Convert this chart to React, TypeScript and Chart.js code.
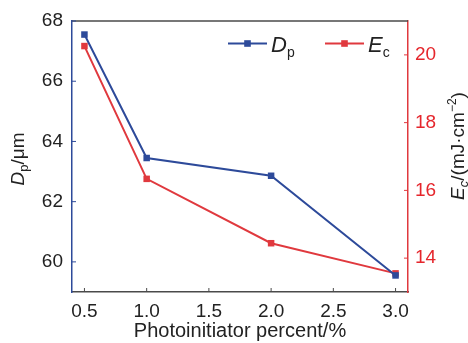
import React, { useEffect, useRef } from "react";
import { Chart, registerables } from "chart.js";

Chart.register(...registerables);

const percents = [0.5, 1.0, 2.0, 3.0];
const dpValues = [67.55, 63.45, 62.86, 59.55];
const ecValues = [20.26, 16.34, 14.44, 13.55];
const xTicks = [0.5, 1.0, 1.5, 2.0, 2.5, 3.0];
const leftTicks = [60, 62, 64, 66, 68];
const rightTicks = [14, 16, 18, 20];

const BLUE = "#2d4a9a";
const RED = "#e0393e";
const RED_TEXT = "#e5262c";
const DARK = "#4a4a4a";
const TEXT = "#222222";
const FONT = "'Liberation Sans', Arial, Helvetica, sans-serif";

type Seg = { t: string; italic?: boolean; size: number; dy?: number; color?: string };

function segWidth(ctx: CanvasRenderingContext2D, segs: Seg[]) {
  let w = 0;
  for (const s of segs) {
    ctx.font = `${s.italic ? "italic " : ""}${s.size}px ${FONT}`;
    w += ctx.measureText(s.t).width;
  }
  return w;
}

function drawSegs(ctx: CanvasRenderingContext2D, segs: Seg[], x: number, y: number, color: string) {
  let cx = x;
  ctx.textAlign = "left";
  ctx.textBaseline = "alphabetic";
  for (const s of segs) {
    ctx.font = `${s.italic ? "italic " : ""}${s.size}px ${FONT}`;
    ctx.fillStyle = s.color || color;
    ctx.fillText(s.t, cx, y + (s.dy || 0));
    cx += ctx.measureText(s.t).width;
  }
}

const decorPlugin = {
  id: "decor",
  afterDraw(chart: any) {
    const ctx: CanvasRenderingContext2D = chart.ctx;
    const { left, right, top, bottom } = chart.chartArea;
    const xs = chart.scales.x;
    const yl = chart.scales.y;
    const yr = chart.scales.y1;
    ctx.save();
    // top border
    ctx.strokeStyle = DARK;
    ctx.lineWidth = 1.5;
    ctx.beginPath();
    ctx.moveTo(left, top);
    ctx.lineTo(right, top);
    ctx.stroke();
    // inward ticks
    const tl = 4;
    ctx.lineWidth = 1;
    ctx.strokeStyle = DARK;
    ctx.beginPath();
    for (const v of xTicks) {
      const px = xs.getPixelForValue(v);
      ctx.moveTo(px, bottom);
      ctx.lineTo(px, bottom - tl);
    }
    ctx.stroke();
    ctx.strokeStyle = BLUE;
    ctx.beginPath();
    for (const v of leftTicks) {
      const py = yl.getPixelForValue(v);
      ctx.moveTo(left, py);
      ctx.lineTo(left + tl, py);
    }
    ctx.stroke();
    ctx.strokeStyle = RED;
    ctx.beginPath();
    for (const v of rightTicks) {
      const py = yr.getPixelForValue(v);
      ctx.moveTo(right, py);
      ctx.lineTo(right - tl, py);
    }
    ctx.stroke();

    // legend
    const legendItems = [
      { color: BLUE, x: 228, segs: [{ t: "D", italic: true, size: 22 }, { t: "p", size: 14, dy: 5 }] as Seg[] },
      { color: RED, x: 325, segs: [{ t: "E", italic: true, size: 22 }, { t: "c", size: 14, dy: 5 }] as Seg[] },
    ];
    const ly = 43.5;
    for (const it of legendItems) {
      ctx.strokeStyle = it.color;
      ctx.lineWidth = 2;
      ctx.beginPath();
      ctx.moveTo(it.x, ly);
      ctx.lineTo(it.x + 39, ly);
      ctx.stroke();
      ctx.fillStyle = it.color;
      ctx.fillRect(it.x + 19.5 - 3.3, ly - 3.3, 6.6, 6.6);
      drawSegs(ctx, it.segs, it.x + 43, ly + 8, TEXT);
    }

    // x title
    const xt: Seg[] = [{ t: "Photoinitiator percent/%", size: 20 }];
    const xw = segWidth(ctx, xt);
    drawSegs(ctx, xt, 240 - xw / 2, 337, TEXT);

    // left title
    const lt: Seg[] = [
      { t: "D", italic: true, size: 19 },
      { t: "p", size: 13, dy: 4 },
      { t: "/\u03bcm", size: 19 },
    ];
    ctx.save();
    ctx.translate(24, 159);
    ctx.rotate(-Math.PI / 2);
    const lw = segWidth(ctx, lt);
    drawSegs(ctx, lt, -lw / 2, 0, TEXT);
    ctx.restore();

    // right title
    const rt: Seg[] = [
      { t: "E", italic: true, size: 19 },
      { t: "c", italic: true, size: 13, dy: 4 },
      { t: "/(mJ\u00b7cm", size: 19 },
      { t: "\u22122", size: 12, dy: -8 },
      { t: ")", size: 19 },
    ];
    ctx.save();
    ctx.translate(464, 146);
    ctx.rotate(-Math.PI / 2);
    const rw = segWidth(ctx, rt);
    drawSegs(ctx, rt, -rw / 2, 0, TEXT);
    ctx.restore();

    ctx.restore();
  },
};

export default function App() {
  const ref = useRef<HTMLCanvasElement | null>(null);
  useEffect(() => {
    if (!ref.current) return;
    const chart = new Chart(ref.current, {
      type: "line",
      data: {
        datasets: [
          {
            label: "Dp",
            data: percents.map((x, i) => ({ x, y: dpValues[i] })),
            borderColor: BLUE,
            backgroundColor: BLUE,
            borderWidth: 2,
            pointStyle: "rect",
            pointRadius: 4.6,
            pointBorderWidth: 0,
            yAxisID: "y",
          },
          {
            label: "Ec",
            data: percents.map((x, i) => ({ x, y: ecValues[i] })),
            borderColor: RED,
            backgroundColor: RED,
            borderWidth: 2,
            pointStyle: "rect",
            pointRadius: 4.6,
            pointBorderWidth: 0,
            yAxisID: "y1",
          },
        ],
      },
      options: {
        responsive: false,
        animation: false,
        layout: { padding: { top: 21, left: 0, right: 0, bottom: 0 } },
        plugins: { legend: { display: false }, tooltip: { enabled: false } },
        scales: {
          x: {
            type: "linear",
            min: 0.4,
            max: 3.1,
            afterBuildTicks: (s: any) => {
              s.ticks = xTicks.map((v) => ({ value: v }));
            },
            afterFit: (s: any) => {
              s.height = 51;
            },
            ticks: {
              callback: (v: any) => Number(v).toFixed(1),
              font: { family: FONT, size: 19 },
              color: TEXT,
              padding: 8,
              maxRotation: 0,
            },
            grid: { drawOnChartArea: false, drawTicks: false },
            border: { color: DARK, width: 1.5 },
          },
          y: {
            type: "linear",
            position: "left",
            min: 59,
            max: 68,
            afterBuildTicks: (s: any) => {
              s.ticks = leftTicks.map((v) => ({ value: v }));
            },
            afterFit: (s: any) => {
              s.width = 72;
            },
            ticks: { font: { family: FONT, size: 19 }, color: TEXT, padding: 9 },
            grid: { drawOnChartArea: false, drawTicks: false },
            border: { color: BLUE, width: 1.5 },
          },
          y1: {
            type: "linear",
            position: "right",
            min: 13,
            max: 21,
            afterBuildTicks: (s: any) => {
              s.ticks = rightTicks.map((v) => ({ value: v }));
            },
            afterFit: (s: any) => {
              s.width = 60;
            },
            ticks: { font: { family: FONT, size: 19 }, color: RED_TEXT, padding: 7 },
            grid: { drawOnChartArea: false, drawTicks: false },
            border: { color: RED, width: 1.5 },
          },
        },
      } as any,
      plugins: [decorPlugin],
    });
    return () => chart.destroy();
  }, []);
  return (
    <div style={{ position: "absolute", left: 0, top: 0, width: 468, height: 343, background: "#fff" }}>
      <canvas ref={ref} width={468} height={343} style={{ width: 468, height: 343, display: "block" }} />
    </div>
  );
}
